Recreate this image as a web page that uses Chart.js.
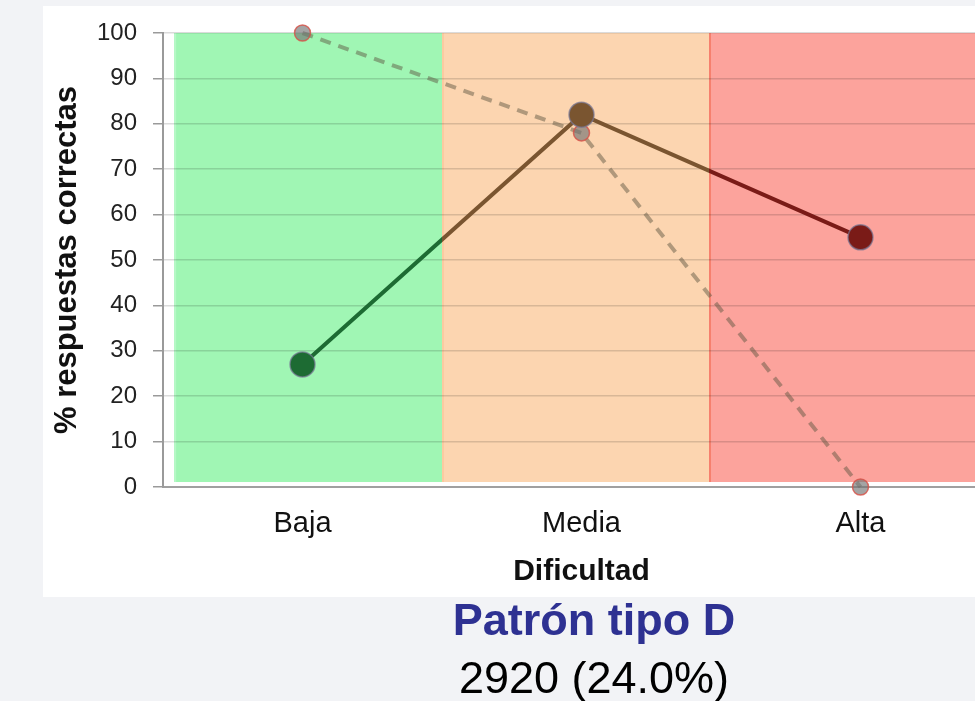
<!DOCTYPE html>
<html>
<head>
<meta charset="utf-8">
<script src="https://cdn.jsdelivr.net/npm/chart.js@4/dist/chart.umd.min.js"></script>
<style>
  html, body { margin: 0; padding: 0; }
  body {
    width: 975px; height: 701px; overflow: hidden; position: relative;
    background: #f2f3f6;
    font-family: 'Liberation Sans', Arial, sans-serif;
  }
  #card { position: absolute; left: 43px; top: 6px; width: 980px; height: 591px; background: #fff; }
  #card canvas { display: block; }
  .caption { position: absolute; left: 0; width: 1188px; text-align: center; font-size: 45px; line-height: 45px; }
  #pattern { top: 597px; font-weight: bold; color: #2e3192; }
  #count { top: 655px; color: #000; }
</style>
</head>
<body>
<div id="card"><canvas id="myChart" width="980" height="591"></canvas></div>
<div class="caption" id="pattern">Patrón tipo D</div>
<div class="caption" id="count">2920 (24.0%)</div>
<script>
'use strict';

let categories = ['Baja', 'Media', 'Alta'];
let observedScore = [27, 82, 55];
let patternScore = [100, 78, 0];
let yMin = 0;
let yMax = 100;
let yStep = 10;

// difficulty background bands, in category units
let bandFrom = [-0.46, 0.5, 1.457];
let bandTo = [0.5, 1.457, 2.5];
let bandFill = ['#a0f6b4', '#fcd5b0', '#fca39c'];
let bandEdge = ['#b6f8c6', '#fbcaa0', '#f6806e'];
let markColors = ['#1d6b33', '#7a5530', '#7a1b17'];

Chart.defaults.font.family = "'Liberation Sans', Arial, sans-serif";

const difficultyBands = {
  id: 'difficultyBands',
  beforeDraw(chart) {
    const ctx = chart.ctx;
    const x = chart.scales.x;
    const y = chart.scales.y;
    const top = y.getPixelForValue(yMax);
    const bottom = y.getPixelForValue(1.1);
    ctx.save();
    for (let i = 0; i < bandFill.length; i++) {
      const left = x.getPixelForValue(bandFrom[i]);
      const right = x.getPixelForValue(bandTo[i]);
      ctx.fillStyle = bandFill[i];
      ctx.fillRect(left, top, right - left, bottom - top);
      ctx.fillStyle = bandEdge[i];
      ctx.fillRect(left, top, 2, bottom - top);
    }
    ctx.restore();
  }
};

function bandLineColor(context) {
  const chart = context.chart;
  const area = chart.chartArea;
  const x = chart.scales.x;
  if (!area || !x) {
    return markColors[1];
  }
  const g = chart.ctx.createLinearGradient(area.left, 0, area.right, 0);
  const w = area.right - area.left;
  let prev = 0;
  for (let i = 0; i < markColors.length; i++) {
    let stop = i < markColors.length - 1 ? (x.getPixelForValue(bandTo[i]) - area.left) / w : 1;
    stop = Math.min(1, Math.max(prev, stop));
    g.addColorStop(prev, markColors[i]);
    g.addColorStop(stop, markColors[i]);
    prev = stop;
  }
  return g;
}

const data = {
  labels: categories,
  datasets: [
    {
      label: 'Observado',
      data: observedScore,
      borderColor: bandLineColor,
      borderWidth: 4,
      pointRadius: 12.5,
      pointBackgroundColor: markColors,
      pointBorderColor: 'rgba(120,120,150,0.7)',
      pointBorderWidth: 1.5,
      tension: 0,
      clip: false
    },
    {
      label: 'Patrón',
      data: patternScore,
      borderColor: 'rgba(95,85,65,0.48)',
      borderWidth: 4,
      borderDash: [11, 8],
      pointRadius: 8,
      pointBackgroundColor: 'rgba(115,115,115,0.65)',
      pointBorderColor: 'rgba(215,80,70,0.8)',
      pointBorderWidth: 1.5,
      tension: 0,
      clip: false
    }
  ]
};

const config = {
  type: 'line',
  data: data,
  options: {
    responsive: false,
    animation: false,
    devicePixelRatio: 1,
    layout: { padding: { top: 27, right: 23, bottom: 0, left: 0 } },
    plugins: {
      legend: { display: false },
      tooltip: { enabled: false }
    },
    scales: {
      x: {
        offset: true,
        grid: { display: false, drawTicks: false },
        border: { display: true, color: '#a0a0a0', width: 2 },
        ticks: { color: '#111', font: { size: 29 }, padding: 20 },
        title: {
          display: true,
          text: 'Dificultad',
          color: '#111',
          font: { size: 30, weight: 'bold' },
          padding: { top: 0, bottom: 7 }
        },
        afterFit(scale) { scale.height = 110; }
      },
      y: {
        min: yMin,
        max: yMax,
        ticks: { stepSize: yStep, color: '#222', font: { size: 24 }, padding: 16 },
        grid: { color: 'rgba(0,0,0,0.14)', lineWidth: 1.5, tickColor: '#9a9a9a', tickLength: 10 },
        border: { color: '#9a9a9a', width: 2 },
        title: {
          display: true,
          text: '% respuestas correctas',
          color: '#111',
          font: { size: 31, weight: 'bold' },
          padding: { top: 6, bottom: 0 }
        },
        afterFit(scale) {
          scale.width = 120;
          scale.paddingTop = 0;
          scale.paddingBottom = 0;
        }
      }
    }
  },
  plugins: [difficultyBands]
};

const myChart = new Chart(document.getElementById('myChart'), config);
</script>
</body>
</html>
